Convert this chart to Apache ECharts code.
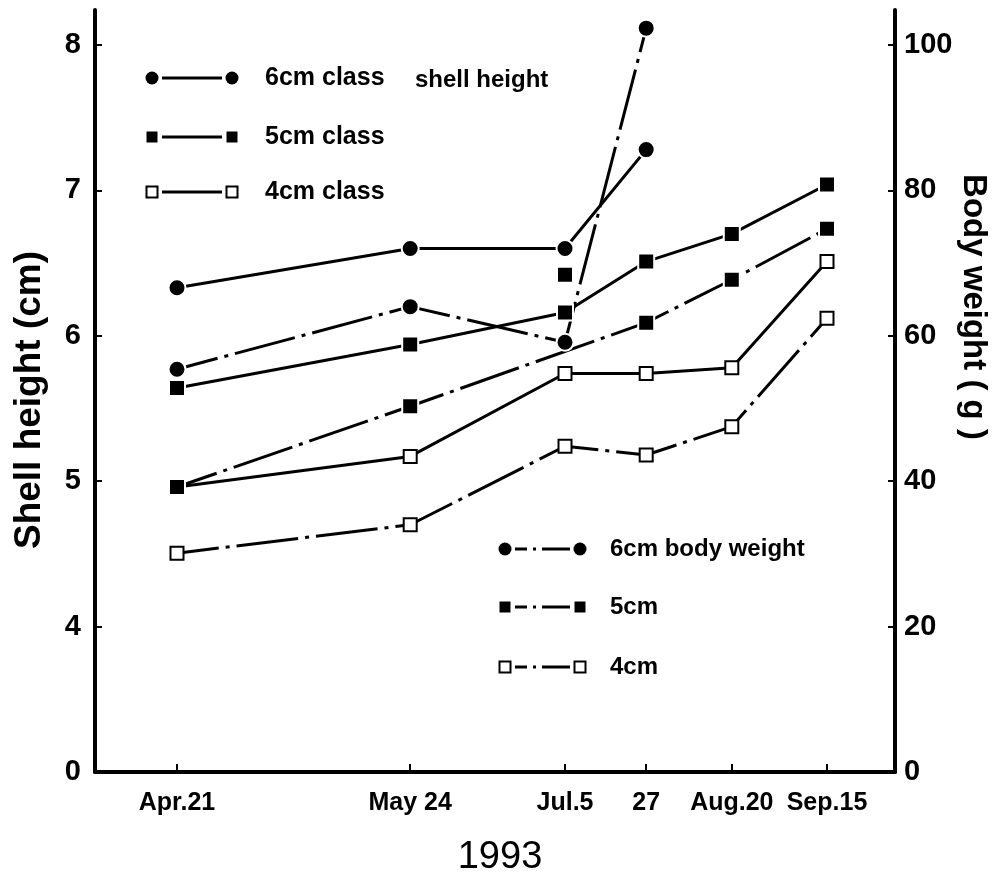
<!DOCTYPE html>
<html>
<head>
<meta charset="utf-8">
<title>Shell height and body weight, 1993</title>
<script src="https://cdn.jsdelivr.net/npm/echarts@6/dist/echarts.min.js"></script>
<style>
  html, body { margin: 0; padding: 0; background: #fff; }
  #chart { width: 1001px; height: 887px; }
</style>
</head>
<body>
<div id="chart"></div>
<script>
// sampling dates (1993) and where each one sits on the uneven x axis of the figure
const dateLabels = ['Apr.21', 'May 24', 'Jul.5', '27', 'Aug.20', 'Sep.15'];
const datePos = [10.25, 39.4, 58.75, 68.9, 79.6, 91.5];

// shell height (cm), left axis
const shell6 = [6.33, 6.60, 6.60, 7.28, null, null];
const shell5 = [5.64, 5.94, 6.16, 6.51, 6.70, 7.04];
const shell4 = [4.96, 5.17, 5.74, 5.74, 5.78, 6.51];

// body weight (g), right axis
const weight6 = [55.4, 64.0, 59.1, 102.3, null, null];
const weight5 = [39.2, 50.3, null, 61.8, 67.7, 74.7];
const weight5Lone = [null, null, 68.4, null, null, null]; // square at Jul.5 not joined to the line
const weight4 = [30.1, 34.0, 44.8, 43.6, 47.5, 62.4];

// tick values; the shell axis is broken below 4, its bottom tick (3) is printed as "0"
const shellTicks = [3, 4, 5, 6, 7, 8];
const weightTicks = [0, 20, 40, 60, 80, 100];

const FONT = "'Liberation Sans', Arial, Helvetica, sans-serif";
const DASH_DOT = [62, 7, 4, 7];

function pts(values) {
  const out = [];
  values.forEach((v, i) => {
    if (v !== null) out.push([datePos[i], v]);
  });
  return out;
}

function dateLabel(v) {
  const i = datePos.findIndex(p => Math.abs(p - v) < 1e-6);
  return i >= 0 ? dateLabels[i] : '';
}

function markerStyle(kind) {
  if (kind === 'open') {
    return { symbol: 'rect', symbolSize: 13, itemStyle: { color: '#fff', borderColor: '#000', borderWidth: 2, opacity: 1 } };
  }
  return {
    symbol: kind === 'circle' ? 'circle' : 'rect',
    symbolSize: kind === 'circle' ? 17 : 16,
    itemStyle: { color: '#000', borderColor: '#fff', borderWidth: 2, opacity: 1 }
  };
}

function lineSeries(name, values, axis, kind, dashed) {
  return Object.assign({
    name: name,
    type: 'line',
    yAxisIndex: axis,
    data: pts(values),
    lineStyle: { color: '#000', width: 3, type: dashed ? DASH_DOT : 'solid', dashOffset: dashed ? 20 : 0 },
    emphasis: { disabled: true }
  }, markerStyle(kind));
}

function yAxisBase(position, min, max, ticks, fmt) {
  return {
    type: 'value',
    position: position,
    min: min,
    max: max,
    axisLine: { show: true, onZero: false, lineStyle: { color: '#000', width: 4 } },
    axisTick: { show: true, inside: true, length: 7, customValues: ticks, lineStyle: { color: '#000', width: 2 } },
    axisLabel: {
      show: true, customValues: ticks, formatter: fmt, hideOverlap: false,
      color: '#000', fontFamily: FONT, fontWeight: 'bold', fontSize: 29,
      margin: position === 'left' ? 14 : 9
    },
    splitLine: { show: false }
  };
}

// legend rows drawn by hand: marker - line - marker, then text
const legendTop = [
  { kind: 'circle', text: '6cm class' },
  { kind: 'square', text: '5cm class' },
  { kind: 'open', text: '4cm class' }
];
const legendBottom = [
  { kind: 'circle', text: '6cm body weight' },
  { kind: 'square', text: '5cm' },
  { kind: 'open', text: '4cm' }
];

function legendMarker(kind, cx, cy) {
  if (kind === 'circle') {
    return { type: 'circle', shape: { cx: cx, cy: cy, r: 6.5 }, style: { fill: '#000' } };
  }
  if (kind === 'square') {
    return { type: 'rect', shape: { x: cx - 5.5, y: cy - 5.5, width: 11, height: 11 }, style: { fill: '#000' } };
  }
  return { type: 'rect', shape: { x: cx - 5.5, y: cy - 5.5, width: 11, height: 11 }, style: { fill: '#fff', stroke: '#000', lineWidth: 2 } };
}

function legendRows(rows, ys, x1, x2, textX, dashed, fontSize) {
  const els = [];
  rows.forEach((r, i) => {
    const y = ys[i];
    els.push({
      type: 'line',
      shape: { x1: x1 + 10, y1: y, x2: x2 - 10, y2: y },
      style: { stroke: '#000', lineWidth: 3, lineDash: dashed ? [12, 6, 3, 6, 40] : null }
    });
    els.push(legendMarker(r.kind, x1, y));
    els.push(legendMarker(r.kind, x2, y));
    els.push({
      type: 'text',
      style: { text: r.text, x: textX, y: y, fill: '#000', font: 'bold ' + fontSize + 'px ' + FONT, textVerticalAlign: 'middle', verticalAlign: 'middle' }
    });
  });
  return els;
}

const graphics = []
  .concat(legendRows(legendTop, [78, 137, 192], 152, 232, 265, false, 25))
  .concat(legendRows(legendBottom, [549, 607, 667], 505, 580, 610, true, 24))
  .concat([
    {
      type: 'text',
      style: { text: 'shell height', x: 415, y: 80, fill: '#000', font: 'bold 24px ' + FONT, textVerticalAlign: 'middle', verticalAlign: 'middle' }
    },
    {
      type: 'text', x: 30, y: 400, rotation: Math.PI / 2,
      style: { text: 'Shell height (cm)', fill: '#000', font: 'bold 37px ' + FONT, textAlign: 'center', textVerticalAlign: 'middle', align: 'center', verticalAlign: 'middle' }
    },
    {
      type: 'text', x: 973, y: 307, rotation: -Math.PI / 2,
      style: { text: 'Body weight ( g )', fill: '#000', font: 'bold 33px ' + FONT, textAlign: 'center', textVerticalAlign: 'middle', align: 'center', verticalAlign: 'middle' }
    },
    {
      type: 'text', x: 500, y: 858,
      style: { text: '1993', fill: '#000', font: '38px ' + FONT, textAlign: 'center', textVerticalAlign: 'middle', align: 'center', verticalAlign: 'middle' }
    }
  ]);

const chart = echarts.init(document.getElementById('chart'), null, { renderer: 'canvas' });

chart.setOption({
  animation: false,
  backgroundColor: '#fff',
  grid: { left: 95, right: 106, top: 10, bottom: 115 },
  xAxis: {
    type: 'value',
    min: 0,
    max: 100,
    axisLine: { show: true, onZero: false, lineStyle: { color: '#000', width: 4 } },
    axisTick: { show: true, inside: true, length: 8, customValues: datePos, lineStyle: { color: '#000', width: 2 } },
    axisLabel: {
      show: true, customValues: datePos, formatter: dateLabel, hideOverlap: false,
      showMinLabel: true, showMaxLabel: true,
      color: '#000', fontFamily: FONT, fontWeight: 'bold', fontSize: 25, margin: 19
    },
    splitLine: { show: false }
  },
  yAxis: [
    yAxisBase('left', 3, 8.24, shellTicks, v => (v === 3 ? '0' : String(v))),
    yAxisBase('right', 0, 104.8, weightTicks, v => String(v))
  ],
  series: [
    lineSeries('6cm class shell height', shell6, 0, 'circle', false),
    lineSeries('5cm class shell height', shell5, 0, 'square', false),
    lineSeries('4cm class shell height', shell4, 0, 'open', false),
    lineSeries('6cm body weight', weight6, 1, 'circle', true),
    lineSeries('5cm body weight', weight5, 1, 'square', true),
    Object.assign({
      name: '5cm body weight',
      type: 'scatter',
      yAxisIndex: 1,
      data: pts(weight5Lone),
      emphasis: { disabled: true }
    }, markerStyle('square')),
    lineSeries('4cm body weight', weight4, 1, 'open', true)
  ],
  graphic: { elements: graphics }
});

window.addEventListener('resize', () => chart.resize());
</script>
</body>
</html>
